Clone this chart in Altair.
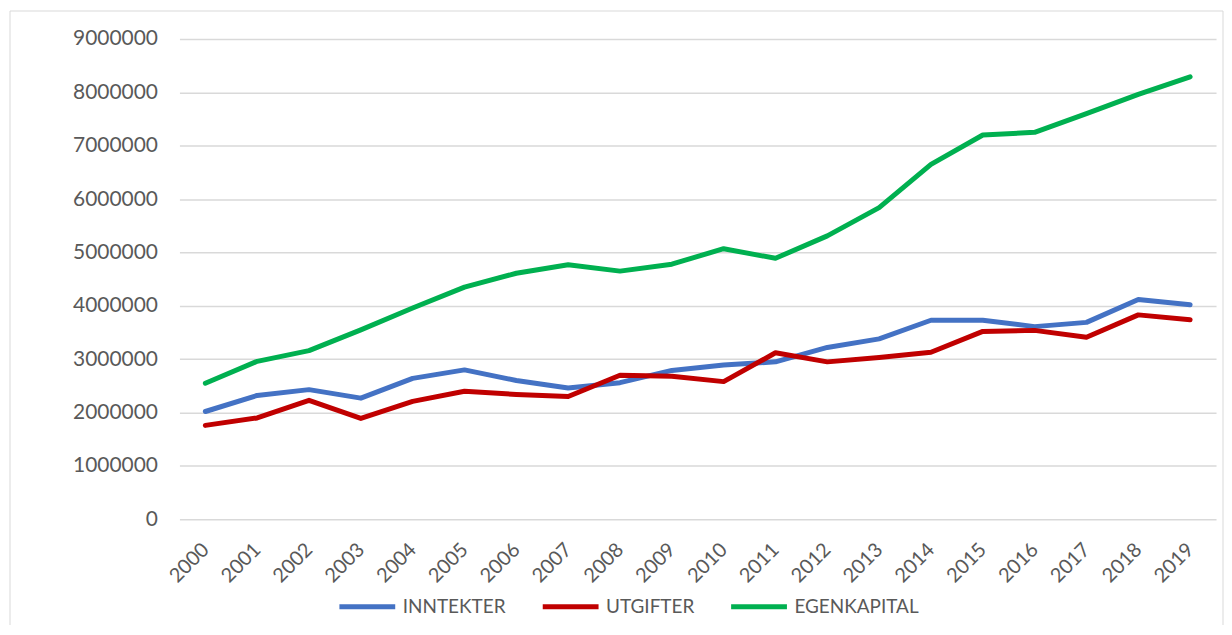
import altair as alt
import pandas as pd

years = [str(y) for y in range(2000, 2020)]
inntekter = [2020000, 2320000, 2430000, 2270000, 2640000, 2800000, 2600000, 2460000, 2560000, 2790000,
             2890000, 2950000, 3220000, 3380000, 3730000, 3730000, 3610000, 3690000, 4120000, 4020000]
utgifter = [1760000, 1900000, 2230000, 1890000, 2210000, 2400000, 2340000, 2300000, 2700000, 2680000,
            2580000, 3120000, 2950000, 3030000, 3130000, 3520000, 3540000, 3410000, 3830000, 3740000]
egenkapital = [2550000, 2960000, 3160000, 3550000, 3960000, 4350000, 4610000, 4770000, 4650000, 4780000,
               5070000, 4890000, 5310000, 5840000, 6650000, 7200000, 7250000, 7600000, 7960000, 8290000]

series_names = ["INNTEKTER", "UTGIFTER", "EGENKAPITAL"]
series_colors = ["#4472C4", "#C00000", "#00B050"]
y_ticks = list(range(0, 9000001, 1000000))

rows = []
for name, vals in zip(series_names, [inntekter, utgifter, egenkapital]):
    for yr, v in zip(years, vals):
        rows.append({"year": yr, "value": v, "series": name})
df = pd.DataFrame(rows)

lines = alt.Chart(df).mark_line(strokeWidth=5, strokeCap="round", strokeJoin="round").encode(
    x=alt.X("year:O", sort=years, title=None,
            scale=alt.Scale(type="point", padding=0.5),
            axis=alt.Axis(labelAngle=-45, labelAlign="right", labelBaseline="middle",
                          labelPadding=27, domain=False, ticks=False, grid=False,
                          labelFont="Lato", labelFontSize=20, labelColor="#595959")),
    y=alt.Y("value:Q", title=None,
            scale=alt.Scale(domain=[0, 9000000], nice=False),
            axis=alt.Axis(values=y_ticks, format="d", domain=False, ticks=False,
                          gridColor="#D9D9D9", gridWidth=1.5, labelPadding=22,
                          labelFont="Lato", labelFontSize=21, labelColor="#595959")),
    color=alt.Color("series:N", sort=series_names,
                    scale=alt.Scale(domain=series_names, range=series_colors),
                    legend=alt.Legend(title=None, orient="none", direction="horizontal",
                                      legendX=158, legendY=539, padding=0,
                                      symbolType="stroke", symbolSize=3136, symbolStrokeWidth=5,
                                      labelFont="Lato", labelFontSize=19, labelColor="#595959",
                                      labelOffset=5, columnPadding=26)),
)

border_left = alt.Chart().mark_rule(color="#D9D9D9", strokeWidth=1).encode(
    x=alt.value(-170), y=alt.value(-28), y2=alt.value(600))
border_top = alt.Chart().mark_rule(color="#D9D9D9", strokeWidth=1).encode(
    x=alt.value(-170), x2=alt.value(1047), y=alt.value(-28))
border_right = alt.Chart().mark_rule(color="#D9D9D9", strokeWidth=1).encode(
    x=alt.value(1047), y=alt.value(-28), y2=alt.value(600))

chart = alt.layer(border_left, border_top, border_right, lines).properties(
    width=1040, height=482,
    autosize=alt.AutoSizeParams(type="none"),
    padding={"left": 172, "top": 30, "right": 8, "bottom": 105},
).configure_view(stroke=None)

chart.save("out.html", embed_options={"renderer": "svg", "actions": False})
